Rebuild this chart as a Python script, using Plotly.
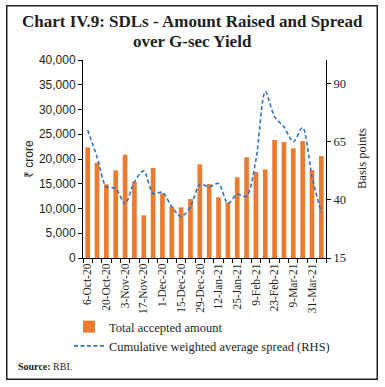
import plotly.graph_objects as go

dates = ["6-Oct-20", "13-Oct-20", "20-Oct-20", "27-Oct-20", "3-Nov-20", "10-Nov-20",
         "17-Nov-20", "24-Nov-20", "1-Dec-20", "8-Dec-20", "15-Dec-20", "22-Dec-20",
         "29-Dec-20", "5-Jan-21", "12-Jan-21", "19-Jan-21", "25-Jan-21", "2-Feb-21",
         "9-Feb-21", "16-Feb-21", "23-Feb-21", "2-Mar-21", "9-Mar-21", "16-Mar-21",
         "31-Mar-21", "6-Apr-21"]
tick_labels = [d if i % 2 == 0 else "" for i, d in enumerate(dates)]

amount = [22360, 19250, 14880, 17710, 20870, 15420, 8620, 18180, 13060, 10370,
          10230, 11920, 18930, 14950, 12260, 11180, 16300, 20340, 17370, 17910,
          23840, 23430, 22160, 23640, 17780, 20610]
spread = [69.9, 58.4, 45.6, 44.9, 38.2, 47.7, 52.4, 42.7, 43.2, 37.0,
          32.7, 37.0, 46.6, 45.6, 47.0, 38.4, 42.4, 41.5, 57.0, 86.5,
          75.6, 71.3, 64.9, 71.0, 49.9, 34.4]

serif = "Liberation Serif"
sans = "Liberation Sans"
txt = "#231F20"

W, H = 385, 387
PL, PR, PT, PB = 83, 326, 60, 258  # plot area in page pixels


def fx(x):
    return x / W


def fy(y):
    return (H - y) / H


fig = go.Figure()
fig.add_trace(go.Bar(x=dates, y=amount, name="Total accepted amount",
                     marker=dict(color="#EC7B30", line=dict(width=0))))
fig.add_trace(go.Scatter(x=dates, y=spread, yaxis="y2", mode="lines",
                         name="Cumulative weighted average spread (RHS)",
                         line=dict(color="#2E72C4", width=1.6, dash="4px,2.5px",
                                   shape="spline", smoothing=0.8)))

fig.update_layout(
    width=W, height=H, margin=dict(l=0, r=0, t=0, b=0, autoexpand=False),
    paper_bgcolor="white", plot_bgcolor="rgba(0,0,0,0)",
    bargap=0.5, showlegend=True,
    legend=dict(x=fx(69), y=fy(312), xanchor="left", yanchor="top",
                font=dict(family=serif, size=12.5, color=txt), tracegroupgap=0,
                bgcolor="rgba(0,0,0,0)"),
    xaxis=dict(domain=[fx(PL), fx(PR)], type="category", tickmode="array",
               tickvals=dates, ticktext=tick_labels, automargin=False,
               tickangle=-90, tickson="boundaries", ticks="outside", ticklen=4,
               tickcolor="black", showline=True, linecolor="black", linewidth=1,
               showgrid=False, tickfont=dict(family=serif, size=11.5, color=txt)),
    yaxis=dict(domain=[fy(PB), fy(PT)], range=[0, 40000], dtick=5000, tickformat=",d",
               showgrid=False, automargin=False,
               showline=True, linecolor="black", linewidth=1, ticks="outside",
               ticklen=4, tickcolor="black", zeroline=False,
               tickfont=dict(family=sans, size=12, color=txt)),
    yaxis2=dict(range=[15, 100], tickvals=[15, 40, 65, 90], overlaying="y", side="right",
                showgrid=False, showline=True, linecolor="black", linewidth=1,
                automargin=False, anchor="x",
                ticks="outside", ticklen=4, tickcolor="black", zeroline=False,
                tickfont=dict(family=serif, size=12.5, color=txt)),
)


def note(x, y, text, font, xanchor="center", yanchor="middle", angle=0):
    fig.add_annotation(x=fx(x), y=fy(y), xref="paper", yref="paper", showarrow=False,
                       text=text, textangle=angle, xanchor=xanchor, yanchor=yanchor,
                       font=font)


note(192, 22, "<b>Chart IV.9: SDLs - Amount Raised and Spread</b>",
     dict(family=serif, size=17, color=txt))
note(192, 41, "<b>over G-sec Yield</b>", dict(family=serif, size=17, color=txt))
note(29, 159, "₹ crore", dict(family=sans, size=12, color=txt), angle=-90)
note(362, 159, "Basis points", dict(family=serif, size=12.5, color=txt), angle=-90)
note(16, 366, "<b>Source:</b> RBI.", dict(family=serif, size=10, color=txt), xanchor="left")

# outer frame: an empty bordered annotation box spanning the chart
fig.add_annotation(x=fx(192), y=fy(192.5), xref="paper", yref="paper", showarrow=False,
                   text=" ", width=369, height=372, borderpad=0, borderwidth=1.5,
                   bordercolor="#231F20", bgcolor="rgba(0,0,0,0)",
                   xanchor="center", yanchor="middle", captureevents=False)

fig.write_html("out.html", config={"displayModeBar": False},
               post_script="document.body.style.margin='0';document.body.style.padding='0';")
